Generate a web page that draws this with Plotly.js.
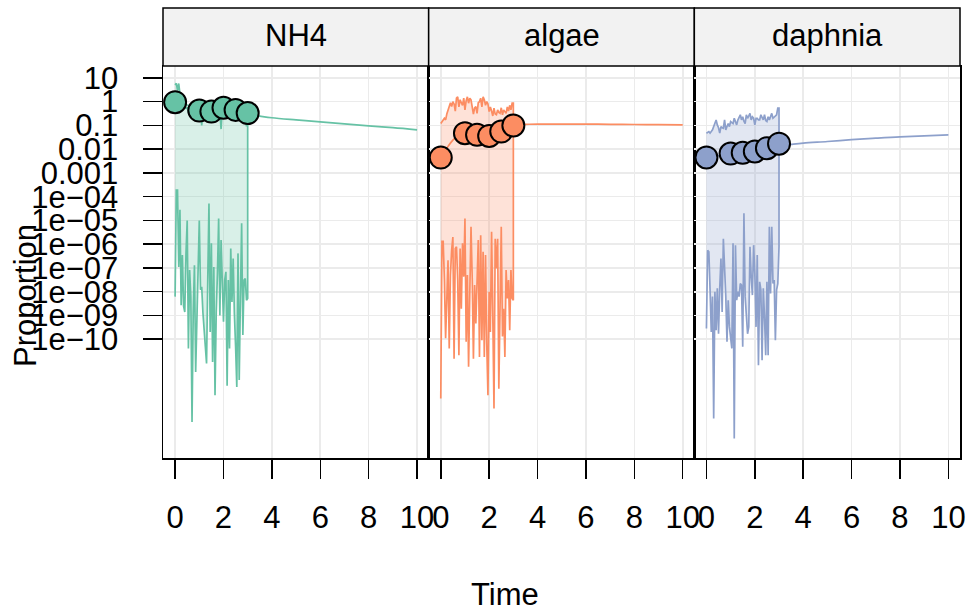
<!DOCTYPE html>
<html>
<head>
<meta charset="utf-8">
<script src="https://cdn.plot.ly/plotly-3.0.1.min.js"></script>
<style>html,body{margin:0;padding:0;background:#fff;}#chart{width:969px;height:612px;}</style>
</head>
<body>
<div id="chart"></div>
<script>
// ---------- data ----------
const panels = ["NH4", "algae", "daphnia"];
const colors = ["#66C2A5", "#FC8D62", "#8DA0CB"];
const fills = ["rgba(102,194,165,0.25)", "rgba(252,141,98,0.25)", "rgba(141,160,203,0.25)"];

const ribbonTime = [0,0.05,0.1,0.15,0.2,0.25,0.3,0.35,0.4,0.45,0.5,0.55,0.6,0.65,0.7,0.75,0.8,0.85,0.9,0.95,
  1,1.05,1.1,1.15,1.2,1.25,1.3,1.35,1.4,1.45,1.5,1.55,1.6,1.65,1.7,1.75,1.8,1.85,1.9,1.95,
  2,2.05,2.1,2.15,2.2,2.25,2.3,2.35,2.4,2.45,2.5,2.55,2.6,2.65,2.7,2.75,2.8,2.85,2.9,2.95,3];

const nh4Upper = [5.0,5.9,3.0,5.8,2.2,1.7,1.3,0.9,0.7,0.5,0.6,0.35,0.4,0.4,0.5,0.3,0.55,0.3,0.4,0.45,
  0.15,0.5,0.1,0.4,0.4,0.3,0.5,0.35,0.4,0.15,0.45,0.35,0.5,0.6,0.45,0.5,0.35,0.4,0.07,0.5,
  0.45,0.6,0.5,0.35,0.45,0.3,0.5,0.4,0.35,0.45,0.3,0.4,0.5,0.35,0.45,0.4,0.4,0.35,0.4,0.09,0.35];
const nh4Lower = [6.2e-9,1.9e-4,1.9e-4,1.1e-7,2.8e-5,2.7e-9,3.5e-7,2.5e-9,1.4e-9,4.1e-7,1.0e-5,4.1e-11,8.1e-8,6.2e-9,3.3e-14,1.3e-9,1.3e-7,4.2e-12,3.3e-10,3.2e-8,
  1.0e-5,1.2e-8,1.6e-8,1.3e-9,2.4e-10,5.0e-11,9.5e-12,3.2e-8,5.2e-5,2.0e-10,1.1e-6,1.1e-11,1.1e-7,4.4e-13,1.3e-9,5.9e-8,1.2e-5,1.0e-9,1.5e-6,3.2e-8,
  5.4e-10,3.1e-8,6.9e-8,1.1e-12,3.1e-8,4.1e-11,6.6e-7,3.7e-9,2.5e-7,1.2e-9,5.0e-11,9.8e-13,4.1e-7,1.9e-12,6.2e-9,7.6e-6,1.5e-10,3.1e-8,3.6e-8,4.4e-9,5.2e-9];

const algaeUpper = [0.12,0.15,0.17,0.2,0.17,0.3,0.45,0.7,0.9,0.62,1.0,0.8,0.4,1.4,1.6,0.6,1.2,0.9,0.7,1.4,
  0.45,1.1,1.6,0.86,1.4,1.2,0.45,0.3,0.55,0.62,0.32,0.9,1.0,1.4,0.6,1.6,1.2,0.7,1.0,0.8,
  0.38,0.6,0.4,0.25,0.53,0.3,0.28,0.45,0.35,0.32,0.55,0.28,0.45,0.35,0.32,0.6,0.4,0.7,0.45,0.86,0.86];
const algaeLower = [3.2e-13,1.3e-6,1.3e-6,3.1e-8,1.1e-10,1.1e-8,2.1e-7,4.1e-11,5.0e-8,5.6e-7,2.0e-6,1.5e-11,6.6e-7,7.8e-7,3.1e-8,2.1e-11,6.6e-7,1.9e-9,1.1e-6,4.3e-8,
  1.2e-5,7.8e-11,5.0e-8,6.9e-12,8.5e-9,5.4e-6,3.6e-8,1.5e-11,1.9e-8,4.6e-10,3.1e-8,1.5e-6,1.8e-11,2.4e-6,9.1e-11,4.8e-7,1.8e-11,3.5e-7,6.6e-11,4.4e-13,
  1.0e-8,2.0e-10,3.3e-6,1.0e-9,1.2e-13,1.7e-6,9.5e-8,1.7e-6,8.3e-13,1.9e-9,5.4e-6,1.3e-10,1.9e-9,1.8e-11,8.1e-8,5.2e-9,3.1e-8,2.4e-10,8.1e-8,5.2e-9,4.4e-9];

const daphniaUpper = [0.047,0.05,0.055,0.047,0.055,0.065,0.09,0.12,0.17,0.105,0.08,0.047,0.089,0.08,0.076,0.17,0.065,0.09,0.12,0.089,
  0.145,0.13,0.12,0.2,0.14,0.105,0.17,0.22,0.28,0.17,0.23,0.15,0.12,0.28,0.2,0.25,0.32,0.17,0.23,0.2,
  0.105,0.2,0.2,0.17,0.17,0.28,0.2,0.17,0.28,0.16,0.145,0.23,0.17,0.23,0.32,0.2,0.23,0.25,0.28,0.53,0.53];
const daphniaLower = [2.8e-10,5.6e-7,4.8e-7,1.2e-8,2.0e-10,6.2e-9,4.6e-14,1.0e-8,2.4e-10,1.4e-8,1.7e-10,1.4e-8,2.5e-7,1.4e-9,1.7e-6,8.1e-8,6.2e-9,7.8e-11,4.4e-9,3.3e-10,
  1.3e-10,4.1e-11,1.1e-6,6.6e-15,9.1e-7,4.4e-9,1.0e-8,6.2e-9,2.2e-8,1.9e-8,4.8e-11,2.0e-5,6.2e-9,2.3e-9,1.7e-10,3.3e-10,7.8e-7,4.3e-8,7.2e-9,9.1e-7,
  5.9e-8,3.3e-10,3.5e-7,8.1e-12,2.6e-8,1.2e-8,1.3e-11,1.4e-8,8.7e-10,2.1e-11,2.6e-8,2.1e-11,5.4e-6,8.5e-9,5.4e-6,2.2e-8,3.1e-8,9.1e-11,1.2e-8,2.2e-8,7.8e-7];

const lineTime = [0,0.25,0.5,0.75,1,1.5,2,2.5,3,3.5,4,5,6,7,8,9,10];
const nh4Line = [1.0,0.85,0.72,0.62,0.55,0.45,0.38,0.33,0.29,0.245,0.21,0.17,0.14,0.115,0.095,0.08,0.065];
const algaeLine = [0.0044,0.011,0.024,0.04,0.055,0.075,0.09,0.1,0.107,0.111,0.113,0.114,0.113,0.111,0.109,0.107,0.105];
const daphniaLine = [0.0045,0.0048,0.0052,0.0057,0.0062,0.0075,0.009,0.011,0.014,0.016,0.018,0.021,0.025,0.029,0.033,0.036,0.04];

const obsTime = [0,1,1.5,2,2.5,3];
const nh4Obs = [0.95,0.42,0.38,0.55,0.45,0.33];
const algaeObs = [0.0044,0.047,0.040,0.036,0.055,0.10];
const daphniaObs = [0.0045,0.0065,0.007,0.008,0.011,0.017];

const xTickVals = [0,2,4,6,8,10];
const yTickVals = [10,1,0.1,0.01,0.001,1e-4,1e-5,1e-6,1e-7,1e-8,1e-9,1e-10];
const yTickText = ["10","1","0.1","0.01","0.001","1e\u221204","1e\u221205","1e\u221206","1e\u221207","1e\u221208","1e\u221209","1e\u221210"];

// ---------- build ----------
const uppers = [nh4Upper, algaeUpper, daphniaUpper];
const lowers = [nh4Lower, algaeLower, daphniaLower];
const lines = [nh4Line, algaeLine, daphniaLine];
const obs = [nh4Obs, algaeObs, daphniaObs];

const traces = [];
panels.forEach((p, k) => {
  const xa = k === 0 ? 'x' : 'x' + (k + 1);
  const ya = k === 0 ? 'y' : 'y' + (k + 1);
  const polyX = ribbonTime.concat(ribbonTime.slice().reverse());
  const polyY = uppers[k].concat(lowers[k].slice().reverse());
  traces.push({x: polyX, y: polyY, xaxis: xa, yaxis: ya, type: 'scatter', mode: 'lines',
    fill: 'toself', fillcolor: fills[k], line: {color: colors[k], width: 1.7}, hoverinfo: 'skip'});
  traces.push({x: lineTime, y: lines[k], xaxis: xa, yaxis: ya, type: 'scatter', mode: 'lines',
    line: {color: colors[k], width: 1.7, shape: 'spline'}});
  traces.push({x: obsTime, y: obs[k], xaxis: xa, yaxis: ya, type: 'scatter', mode: 'markers', cliponaxis: false,
    marker: {size: 22, color: colors[k], line: {color: '#000', width: 2}}});
});

const font = {family: 'Liberation Sans, Arial, sans-serif', size: 31, color: '#000'};
const plotH = 392;
const stripH = 58;

function xAxis(domain) {
  return {domain: domain, range: [-0.5, 10.48], tickvals: xTickVals, ticks: 'outside', ticklen: 19,
    tickwidth: 1.5, tickcolor: '#000', showline: true, mirror: true, linecolor: '#000', linewidth: 1.5,
    showgrid: true, gridcolor: '#ebebeb', gridwidth: 1.6, zeroline: false, tickfont: font, tickangle: 0,
    ticklabelstandoff: 12, automargin: false, fixedrange: true};
}
function yAxis(anchor, labels) {
  return {anchor: anchor, type: 'log', range: [-15, 1.5], tickvals: yTickVals, ticktext: yTickText,
    ticks: labels ? 'outside' : '', ticklen: 19, tickwidth: 1.5, tickcolor: '#000',
    showticklabels: labels, showline: true, mirror: true, linecolor: '#000', linewidth: 1.5,
    showgrid: true, gridcolor: '#ebebeb', gridwidth: 1.6, zeroline: false, tickfont: font,
    ticklabelstandoff: 18, automargin: false, fixedrange: true};
}

const shapes = [];
const annotations = [];
const doms = [[0, 1/3], [1/3, 2/3], [2/3, 1]];
panels.forEach((p, k) => {
  shapes.push({type: 'rect', xref: 'paper', yref: 'paper', x0: doms[k][0], x1: doms[k][1],
    y0: 1, y1: 1 + stripH / plotH, fillcolor: '#f2f2f2', line: {color: '#000', width: 1.5}, layer: 'above'});
  annotations.push({text: p, xref: 'paper', yref: 'paper', x: (doms[k][0] + doms[k][1]) / 2,
    y: 1 + (stripH / 2 + 2) / plotH, xanchor: 'center', yanchor: 'middle', showarrow: false, font: font});
});
annotations.push({text: 'Time', xref: 'paper', yref: 'paper', x: (505 - 163) / 797, y: (458 - 594) / plotH,
  xanchor: 'center', yanchor: 'middle', showarrow: false, font: font});
annotations.push({text: 'Proportion', xref: 'paper', yref: 'paper', x: (25 - 163) / 797, y: (458 - 296) / plotH,
  xanchor: 'center', yanchor: 'middle', textangle: -90, showarrow: false, font: font});

const layout = {
  width: 969, height: 612,
  margin: {l: 163, r: 9, t: 66, b: 154, pad: 0},
  paper_bgcolor: '#fff', plot_bgcolor: '#fff',
  showlegend: false, font: font,
  xaxis: xAxis(doms[0]), xaxis2: xAxis(doms[1]), xaxis3: xAxis(doms[2]),
  yaxis: yAxis('x', true), yaxis2: yAxis('x2', false), yaxis3: yAxis('x3', false),
  shapes: shapes, annotations: annotations
};

Plotly.newPlot('chart', traces, layout, {displayModeBar: false, staticPlot: true});
</script>
</body>
</html>
